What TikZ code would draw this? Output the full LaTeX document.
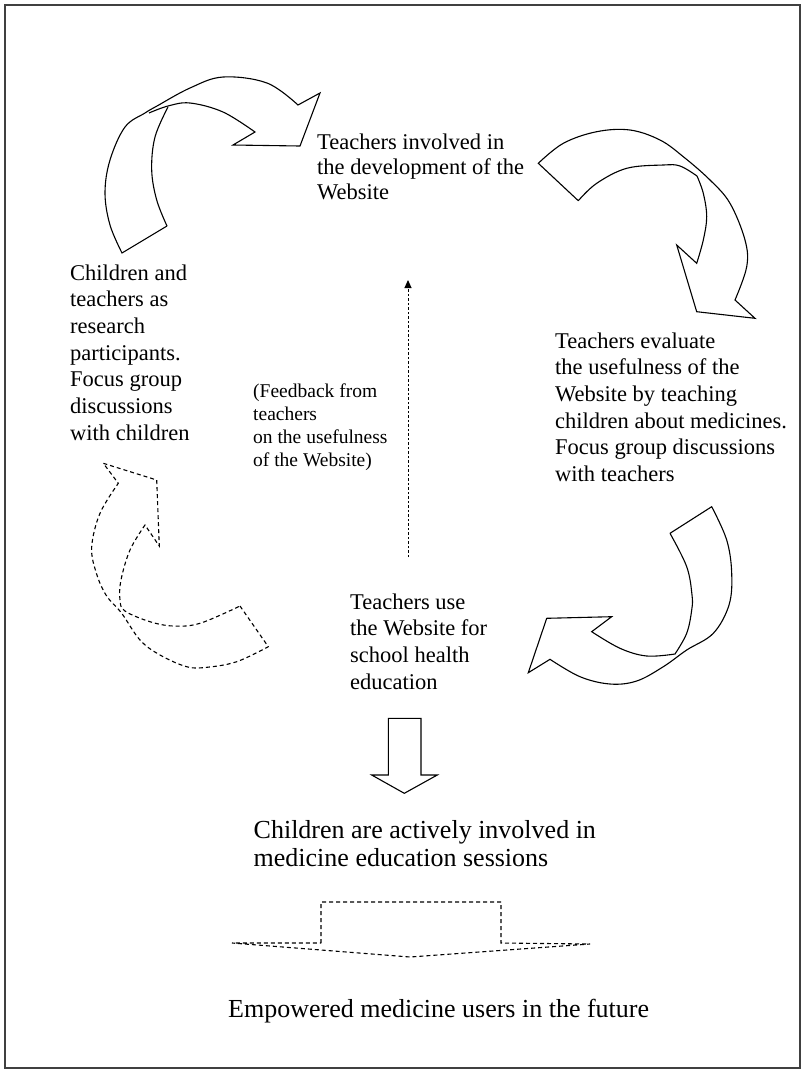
\documentclass[tikz,border=0pt]{standalone}
\usepackage{fontspec}
\setmainfont{Liberation Serif}
\usetikzlibrary{arrows.meta}
\begin{document}
\begin{tikzpicture}[x=1pt,y=-1pt,
  solidshape/.style={draw=black, line width=1.1pt, line join=miter},
  dashshape/.style={draw=black, line width=1.1pt, dash pattern=on 4pt off 3pt},
  lbl/.style={anchor=base west, align=left, inner sep=0pt, font=\fontsize{22.5}{26.7}\selectfont},
  toplbl/.style={lbl, font=\fontsize{22.5}{25}\selectfont},
  fblbl/.style={lbl, font=\fontsize{19.5}{23.3}\selectfont},
  biglbl/.style={lbl, font=\fontsize{26}{28}\selectfont}]
\useasboundingbox (0,0) rectangle (802,1072);
\draw[line width=1.2pt, draw=black!75] (5,5) rectangle (800,1068);

% texts (anchor = baseline of the last line)
\node[toplbl] (top) at (317,199) {Teachers involved in\\the development of the\\Website};
\node[lbl] (left) at (70,440.2) {Children and\\teachers as\\research\\participants.\\Focus group\\discussions\\with children};
\node[lbl] (right) at (555,481.5) {Teachers evaluate\\the usefulness of the\\Website by teaching\\children about medicines.\\Focus group discussions\\with teachers};
\node[fblbl] (fb) at (253,466.9) {(Feedback from\\teachers\\on the usefulness\\of the Website)};
\node[lbl] (use) at (350,689.1) {Teachers use\\the Website for\\school health\\education};
\node[biglbl] (kids) at (253.5,866) {Children are actively involved in\\medicine education sessions};
\node[biglbl] (emp) at (228,1017) {Empowered medicine users in the future};

% top-left curved arrow
\draw[solidshape] (167,226) -- plot[smooth, tension=0.6] coordinates {(122,253) (110,225) (105,193) (110,160) (125,127) (145,113) (157,106) (190,88) (223,77) (267,83) (298,105)}
  -- (320,93) -- (300,146) -- (233,145) -- plot[smooth, tension=0.6] coordinates {(255,132) (223,112) (190,103) (168,106) (149,113)};
\draw[solidshape] plot[smooth, tension=0.6] coordinates {(167,226) (156.7,200) (151.7,170) (155,137) (168,107)};

% top-right curved arrow
\draw[solidshape] (578.3,200.7) -- plot[smooth,tension=0.6] coordinates {(538.3,163.3) (563.3,143.3) (596.7,131.7) (630,130) (660,140) (683.3,156.7) (710,180) (730,203.3) (745,240) (746.7,266.7) (735,300)}
  -- (755,318.3) -- (696.7,311.7) -- (676.7,245)
  -- plot[smooth,tension=0.6] coordinates {(696.7,263.3) (703.3,240) (706.7,216.7) (703.3,193.3) (697,176)}
  -- plot[smooth,tension=0.6] coordinates {(697,176) (680,166) (663.3,165) (626.7,168.3) (596.7,183.3) (578.3,200.7)};

% bottom-right curved arrow
\draw[solidshape] (670,533.3) -- plot[smooth,tension=0.6] coordinates {(711.7,506.7) (726.7,540) (731.7,573.3) (729,605) (713.3,633.3) (686.7,650) (663.3,666.7) (636.7,681) (610,684) (580,676.7) (550,659.3)}
  -- (528.3,672.7) -- (546.7,618.3) -- (611.7,616.7)
  -- plot[smooth,tension=0.6] coordinates {(591.7,631.7) (620,648.3) (646.7,656) (675,654)}
  -- plot[smooth,tension=0.6] coordinates {(675,654) (686.7,633.3) (691.7,610) (692,595) (686.7,566.7) (670,533.3)};

% left dashed curved arrow
\draw[dashshape] (240,606) -- plot[smooth,tension=0.6] coordinates {(268.3,646.7) (236.7,661.7) (206.7,667.3) (186.7,666.7) (160,655) (140,640) (121.7,613.3) (106,595) (96,572) (91.7,546.7) (100,513.3) (118.3,483.3)}
  -- (103.3,463.3) -- (156.7,480) -- (159.3,546)
  -- plot[smooth,tension=0.6] coordinates {(145,525) (130,550) (121,580) (120,600) (125,611) (150,621.7) (173.3,626) (200,623.3) (240,606)};

% feedback dashed arrow
\coordinate (fbBot) at (408,557);
\coordinate (fbTop) at (408,280);
\draw[line width=1pt, dash pattern=on 2.5pt off 2pt, -{Triangle[length=8pt,width=7pt]}] (fbBot) -- (fbTop);

% solid block arrow down
\draw[solidshape] (388.3,718.3) -- (421,718.3) -- (421,775) -- (437.3,775) -- (404.3,793.3) -- (371.7,775) -- (388.3,775) -- cycle;

% dashed block arrow down
\draw[dashshape] (321,943) -- (321,902) -- (501,902) -- (501,943) -- (590,944) -- (410,957) -- (232,943) -- cycle;
\end{tikzpicture}
\end{document}
